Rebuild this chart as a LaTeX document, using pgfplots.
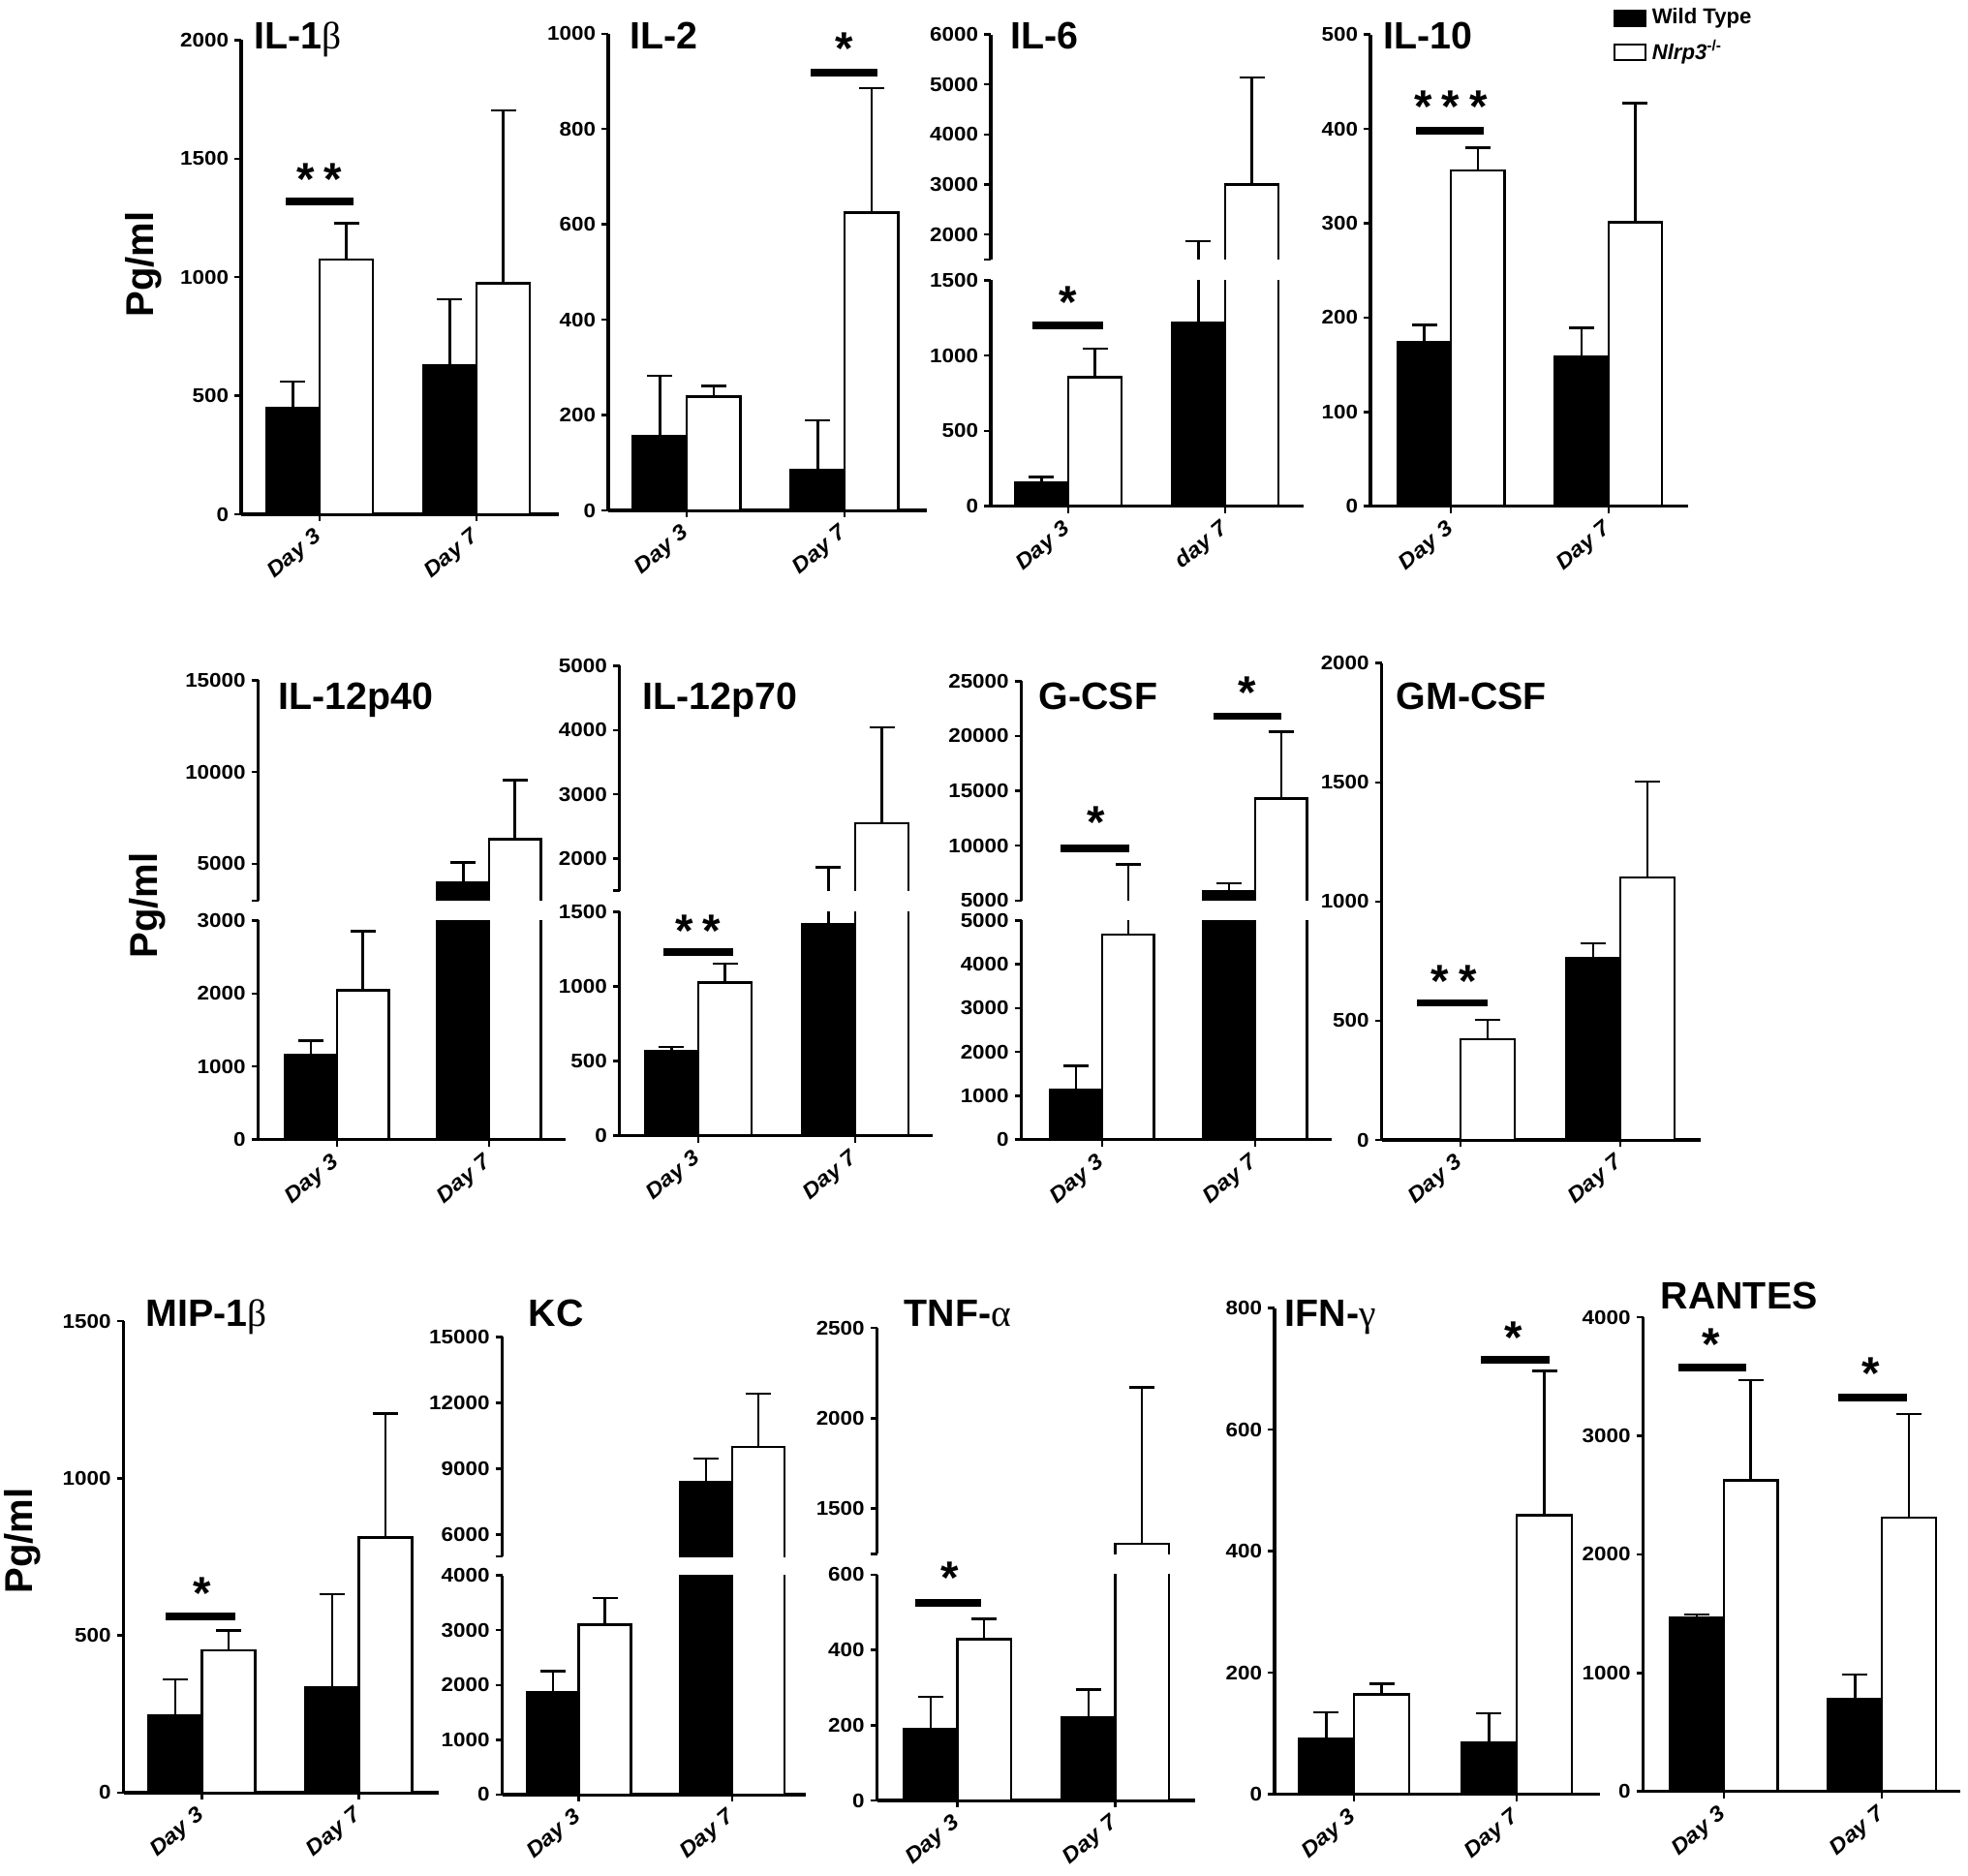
\documentclass[border=0pt]{standalone}
\usepackage{fontspec}
\setmainfont{Liberation Sans}
\newfontfamily\tickf[FakeStretch=1.1]{Liberation Sans}
\newfontfamily\grk{Liberation Serif}
\usepackage{pgfplots}
\pgfplotsset{compat=1.18}

\newcommand\ticklab{\tickf\bfseries\fontsize{5.8}{6.5}\selectfont}
\newcommand\daylab{\tickf\bfseries\itshape\fontsize{6.3}{7}\selectfont}
\newcommand\titlef{\bfseries\fontsize{11.2}{12}\selectfont}
\newcommand\starf{\bfseries\fontsize{13.5}{14}\selectfont}
\newcommand\legf{\bfseries\fontsize{6.3}{7}\selectfont}
\newcommand\pgmlf{\bfseries\fontsize{11.4}{12}\selectfont}
\newcommand\st{\kern0.1cm}

\tikzset{sstar/.style={anchor=north, inner sep=0pt, font=\starf}}

\pgfplotsset{
 pp/.style={scale only axis, anchor=south west, clip=false,
   axis x line=bottom, axis y line=left,
   axis line style={-, line width=1pt, black},
   tick align=outside, major tick length=0.07cm,
   every tick/.style={black, line width=0.7pt},
   xtick={0,1},
   x tick label style={font=\daylab, yshift=-0.11cm, xshift=0.03cm, rotate=40, anchor=east, inner sep=1pt},
   y tick label style={font=\ticklab, inner sep=1.5pt},
   scaled y ticks=false,
 },
 brk/.style={clip=true, clip mode=individual, clip marker paths=true},
 up/.style={axis x line=none, xtick=\empty},
 eb/.style={error bars/.cd, y dir=plus, y explicit,
   error bar style={line width=0.7pt, draw=black, solid},
   error mark options={rotate=90, mark size=0.13cm, line width=0.7pt, draw=black, solid}},
 wt/.style={ybar, bar width=0.34, bar shift=0pt, fill=black, draw=black, line width=0.7pt, eb},
 ko/.style={ybar, bar width=0.34, bar shift=0pt, fill=white, draw=black, line width=0.7pt, eb},
 kof/.style={ybar, bar width=0.34, bar shift=0pt, fill=white, draw=none, eb},
 eo/.style={ybar, bar width=0.34, bar shift=0pt, fill=none, draw=none, eb},
 edge/.style={black, line width=0.7pt},
 sig/.style={line width=2.2pt, black},
}

\begin{document}
\begin{tikzpicture}
\path[use as bounding box] (0,0) rectangle (20.32,19.36);

% ---------------- Row 1 ----------------
% IL-1beta
\begin{axis}[pp, at={(2.49cm,14.05cm)}, width=3.28cm, height=4.895cm,
  xmin=-0.5, xmax=1.525, ymin=0, ymax=2000,
  ytick={0,500,1000,1500,2000}, yticklabels={0,500,1000,1500,2000},
  xticklabels={Day 3,Day 7}]
\addplot[wt] coordinates {(-0.17,447) +- (0,113) (0.83,627) +- (0,281)};
\addplot[ko] coordinates {(0.17,1075) +- (0,153) (1.17,974) +- (0,729)};
\addplot[sig] coordinates {(-0.216,1320) (0.216,1320)};
\node[sstar] at (axis cs:0,1483) {*\st*};
\end{axis}

% IL-2
\begin{axis}[pp, at={(6.28cm,14.09cm)}, width=3.29cm, height=4.922cm,
  xmin=-0.497, xmax=1.52, ymin=0, ymax=1000,
  ytick={0,200,400,600,800,1000}, yticklabels={0,200,400,600,800,1000},
  xticklabels={Day 3,Day 7}]
\addplot[wt] coordinates {(-0.17,155) +- (0,127) (0.83,84) +- (0,105)};
\addplot[ko] coordinates {(0.17,239) +- (0,22) (1.17,625) +- (0,261)};
\addplot[sig] coordinates {(0.785,918) (1.21,918)};
\node[sstar] at (axis cs:1,1003) {*};
\end{axis}

% IL-6 lower
\begin{axis}[pp, brk, at={(10.23cm,14.133cm)}, width=3.23cm, height=2.333cm,
  xmin=-0.494, xmax=1.5, ymin=0, ymax=1500,
  ytick={0,500,1000,1500}, yticklabels={0,500,1000,1500},
  xticklabels={Day 3,day 7}]
\addplot[wt] coordinates {(-0.17,157) +- (0,38) (0.83,1219) +- (0,645)};
\addplot[ko] coordinates {(0.17,856) +- (0,191) (1.17,3000) +- (0,2140)};
\addplot[sig] coordinates {(-0.23,1200) (0.22,1200)};
\node[sstar] at (axis cs:0,1463) {*};
\end{axis}
% IL-6 upper
\begin{axis}[pp, brk, up, at={(10.23cm,16.68cm)}, width=3.23cm, height=2.324cm,
  xmin=-0.494, xmax=1.5, ymin=1500, ymax=6000,
  ytick={1500,2000,3000,4000,5000,6000}, yticklabels={,2000,3000,4000,5000,6000}]
\addplot[eo] coordinates {(0.83,1219) +- (0,645)};
\addplot[kof] coordinates {(1.17,3000) +- (0,2140)};
\addplot[edge] coordinates {(1,0) (1,3000) (1.34,3000) (1.34,0)};
\end{axis}

% IL-10 with legend
\begin{axis}[pp, at={(14.15cm,14.133cm)}, width=3.28cm, height=4.871cm,
  xmin=-0.512, xmax=1.506, ymin=0, ymax=500,
  ytick={0,100,200,300,400,500}, yticklabels={0,100,200,300,400,500},
  xticklabels={Day 3,Day 7},
  legend style={at={(0.762,1.07)}, anchor=north west, draw=none, fill=none,
    font=\legf, inner sep=0pt, row sep=0pt, nodes={inner sep=0.06cm}},
  legend cell align=left]
\addlegendimage{legend image code/.code={\draw[fill=black,draw=black,line width=0.6pt] (0cm,-0.08cm) rectangle (0.32cm,0.08cm);}}
\addlegendentry{Wild Type}
\addlegendimage{legend image code/.code={\draw[fill=white,draw=black,line width=0.6pt] (0cm,-0.08cm) rectangle (0.32cm,0.08cm);}}
\addlegendentry{\textit{Nlrp3}\textsuperscript{-/-}}
\addplot[forget plot, wt] coordinates {(-0.17,174) +- (0,18) (0.83,159) +- (0,30)};
\addplot[forget plot, ko] coordinates {(0.17,356) +- (0,24) (1.17,301) +- (0,126)};
\addplot[forget plot, sig] coordinates {(-0.22,398) (0.21,398)};
\node[sstar] at (axis cs:0,441) {*\st*\st*};
\end{axis}

% ---------------- Row 2 ----------------
% IL-12p40 lower
\begin{axis}[pp, brk, at={(2.666cm,7.594cm)}, width=3.169cm, height=2.262cm,
  xmin=-0.518, xmax=1.5, ymin=0, ymax=3000,
  ytick={0,1000,2000,3000}, yticklabels={0,1000,2000,3000},
  xticklabels={Day 3,Day 7}]
\addplot[wt] coordinates {(-0.17,1159) +- (0,194) (0.83,3960) +- (0,1124)};
\addplot[ko] coordinates {(0.17,2045) +- (0,808) (1.17,6336) +- (0,3237)};
\end{axis}
% IL-12p40 upper
\begin{axis}[pp, brk, up, at={(2.666cm,10.062cm)}, width=3.169cm, height=2.273cm,
  xmin=-0.518, xmax=1.5, ymin=3000, ymax=15000,
  ytick={3000,5000,10000,15000}, yticklabels={,5000,10000,15000}]
\addplot[wt] coordinates {(0.83,3960) +- (0,1124)};
\addplot[kof] coordinates {(1.17,6336) +- (0,3237)};
\addplot[edge] coordinates {(1,0) (1,6336) (1.34,6336) (1.34,0)};
\end{axis}

% IL-12p70 lower
\begin{axis}[pp, brk, at={(6.397cm,7.634cm)}, width=3.233cm, height=2.313cm,
  xmin=-0.502, xmax=1.494, ymin=0, ymax=1500,
  ytick={0,500,1000,1500}, yticklabels={0,500,1000,1500},
  xticklabels={Day 3,Day 7}]
\addplot[wt] coordinates {(-0.17,569) +- (0,26) (0.83,1415) +- (0,448)};
\addplot[ko] coordinates {(0.17,1025) +- (0,126) (1.17,2551) +- (0,1491)};
\addplot[sig] coordinates {(-0.22,1228) (0.22,1228)};
\node[sstar] at (axis cs:0,1479) {*\st*};
\end{axis}
% IL-12p70 upper
\begin{axis}[pp, brk, up, at={(6.397cm,10.164cm)}, width=3.233cm, height=2.322cm,
  xmin=-0.502, xmax=1.494, ymin=1500, ymax=5000,
  ytick={1500,2000,3000,4000,5000}, yticklabels={,2000,3000,4000,5000}]
\addplot[eo] coordinates {(0.83,1415) +- (0,448)};
\addplot[kof] coordinates {(1.17,2551) +- (0,1491)};
\addplot[edge] coordinates {(1,0) (1,2551) (1.34,2551) (1.34,0)};
\end{axis}

% G-CSF lower
\begin{axis}[pp, brk, at={(10.546cm,7.594cm)}, width=3.204cm, height=2.262cm,
  xmin=-0.528, xmax=1.501, ymin=0, ymax=5000,
  ytick={0,1000,2000,3000,4000,5000}, yticklabels={0,1000,2000,3000,4000,5000},
  xticklabels={Day 3,Day 7}]
\addplot[wt] coordinates {(-0.17,1128) +- (0,551) (0.83,5804) +- (0,768)};
\addplot[ko] coordinates {(0.17,4681) +- (0,3632) (1.17,14284) +- (0,6114)};
\end{axis}
% G-CSF upper
\begin{axis}[pp, brk, up, at={(10.546cm,10.062cm)}, width=3.204cm, height=2.265cm,
  xmin=-0.528, xmax=1.501, ymin=5000, ymax=25000,
  ytick={5000,10000,15000,20000,25000}, yticklabels={5000,10000,15000,20000,25000}]
\addplot[eo] coordinates {(0.17,4681) +- (0,3632)};
\addplot[wt] coordinates {(0.83,5804) +- (0,768)};
\addplot[kof] coordinates {(1.17,14284) +- (0,6114)};
\addplot[edge] coordinates {(1,0) (1,14284) (1.34,14284) (1.34,0)};
\addplot[sig] coordinates {(-0.27,9779) (0.18,9779)};
\addplot[sig] coordinates {(0.73,21802) (1.17,21802)};
\node[sstar] at (axis cs:-0.04,13657) {*};
\node[sstar] at (axis cs:0.95,25433) {*};
\end{axis}

% GM-CSF
\begin{axis}[pp, at={(14.266cm,7.59cm)}, width=3.292cm, height=4.923cm,
  xmin=-0.493, xmax=1.502, ymin=0, ymax=2000,
  ytick={0,500,1000,1500,2000}, yticklabels={0,500,1000,1500,2000},
  xticklabels={Day 3,Day 7}]
\addplot[wt] coordinates {(0.83,763) +- (0,61)};
\addplot[ko] coordinates {(0.17,422) +- (0,81) (1.17,1102) +- (0,401)};
\addplot[sig] coordinates {(-0.27,575) (0.17,575)};
\node[sstar] at (axis cs:-0.04,736) {*\st*};
\end{axis}

% ---------------- Row 3 ----------------
% MIP-1beta
\begin{axis}[pp, at={(1.276cm,0.851cm)}, width=3.252cm, height=4.868cm,
  xmin=-0.501, xmax=1.51, ymin=0, ymax=1500,
  ytick={0,500,1000,1500}, yticklabels={0,500,1000,1500},
  xticklabels={Day 3,Day 7}]
\addplot[wt] coordinates {(-0.17,247) +- (0,113) (0.83,335) +- (0,296)};
\addplot[ko] coordinates {(0.17,453) +- (0,63) (1.17,812) +- (0,394)};
\addplot[sig] coordinates {(-0.23,560) (0.21,560)};
\node[sstar] at (axis cs:0,685) {*};
\end{axis}

% KC lower
\begin{axis}[pp, brk, at={(5.185cm,0.831cm)}, width=3.135cm, height=2.263cm,
  xmin=-0.5, xmax=1.48, ymin=0, ymax=4000,
  ytick={0,1000,2000,3000,4000}, yticklabels={0,1000,2000,3000,4000},
  xticklabels={Day 3,Day 7}]
\addplot[wt] coordinates {(-0.17,1862) +- (0,394) (0.83,8386) +- (0,1074)};
\addplot[ko] coordinates {(0.17,3102) +- (0,488) (1.17,9981) +- (0,2421)};
\end{axis}
% KC upper
\begin{axis}[pp, brk, up, at={(5.185cm,3.289cm)}, width=3.135cm, height=2.268cm,
  xmin=-0.5, xmax=1.48, ymin=5000, ymax=15000,
  ytick={5000,6000,9000,12000,15000}, yticklabels={,6000,9000,12000,15000}]
\addplot[wt] coordinates {(0.83,8386) +- (0,1074)};
\addplot[kof] coordinates {(1.17,9981) +- (0,2421)};
\addplot[edge] coordinates {(1,0) (1,9981) (1.34,9981) (1.34,0)};
\end{axis}

% TNF-alpha lower
\begin{axis}[pp, brk, at={(9.056cm,0.77cm)}, width=3.281cm, height=2.332cm,
  xmin=-0.509, xmax=1.505, ymin=0, ymax=600,
  ytick={0,200,400,600}, yticklabels={0,200,400,600},
  xticklabels={Day 3,Day 7}]
\addplot[wt] coordinates {(-0.17,191) +- (0,84) (0.83,220) +- (0,75)};
\addplot[ko] coordinates {(0.17,428) +- (0,55) (1.17,1306) +- (0,864)};
\addplot[sig] coordinates {(-0.27,525) (0.15,525)};
\node[sstar] at (axis cs:-0.05,635) {*};
\end{axis}
% TNF-alpha upper
\begin{axis}[pp, brk, up, at={(9.056cm,3.317cm)}, width=3.281cm, height=2.333cm,
  xmin=-0.509, xmax=1.505, ymin=1250, ymax=2500,
  ytick={1250,1500,2000,2500}, yticklabels={,1500,2000,2500}]
\addplot[kof] coordinates {(1.17,1306) +- (0,864)};
\addplot[edge] coordinates {(1,0) (1,1306) (1.34,1306) (1.34,0)};
\end{axis}

% IFN-gamma
\begin{axis}[pp, at={(13.16cm,0.835cm)}, width=3.357cm, height=5.018cm,
  xmin=-0.488, xmax=1.51, ymin=0, ymax=800,
  ytick={0,200,400,600,800}, yticklabels={0,200,400,600,800},
  xticklabels={Day 3,Day 7}]
\addplot[wt] coordinates {(-0.17,92) +- (0,43) (0.83,85) +- (0,48)};
\addplot[ko] coordinates {(0.17,164) +- (0,18) (1.17,459) +- (0,238)};
\addplot[sig] coordinates {(0.78,715) (1.2,715)};
\node[sstar] at (axis cs:0.98,778) {*};
\end{axis}

% RANTES
\begin{axis}[pp, at={(16.965cm,0.863cm)}, width=3.272cm, height=4.897cm,
  xmin=-0.511, xmax=1.493, ymin=0, ymax=4000,
  ytick={0,1000,2000,3000,4000}, yticklabels={0,1000,2000,3000,4000},
  xticklabels={Day 3,Day 7}]
\addplot[wt] coordinates {(-0.17,1468) +- (0,24) (0.83,779) +- (0,205)};
\addplot[ko] coordinates {(0.17,2625) +- (0,845) (1.17,2310) +- (0,872)};
\addplot[sig] coordinates {(-0.29,3573) (0.14,3573)};
\addplot[sig] coordinates {(0.72,3324) (1.16,3324)};
\node[sstar] at (axis cs:-0.08,3911) {*};
\node[sstar] at (axis cs:0.93,3663) {*};
\end{axis}

% ---------------- Titles ----------------
\begin{scope}[every node/.style={anchor=base west, font=\titlef, inner sep=0pt}]
\node at (2.615,18.85) {IL-1{\grk\mdseries β}};
\node at (6.50,18.85) {IL-2};
\node at (10.43,18.85) {IL-6};
\node at (14.28,18.85) {IL-10};
\node at (2.87,12.03) {IL-12p40};
\node at (6.63,12.03) {IL-12p70};
\node at (10.72,12.03) {G-CSF};
\node at (14.41,12.03) {GM-CSF};
\node at (1.50,5.67) {MIP-1{\grk\mdseries β}};
\node at (5.45,5.67) {KC};
\node at (9.33,5.67) {TNF-{\grk\mdseries α}};
\node at (13.26,5.67) {IFN-{\grk\mdseries γ}};
\node at (17.14,5.85) {RANTES};
\end{scope}

% ---------------- Y labels ----------------
\node[rotate=90, font=\pgmlf, inner sep=0pt] at (1.48,16.63) {Pg/ml};
\node[rotate=90, font=\pgmlf, inner sep=0pt] at (1.52,10.01) {Pg/ml};
\node[rotate=90, font=\pgmlf, inner sep=0pt] at (0.23,3.45) {Pg/ml};
\end{tikzpicture}
\end{document}
